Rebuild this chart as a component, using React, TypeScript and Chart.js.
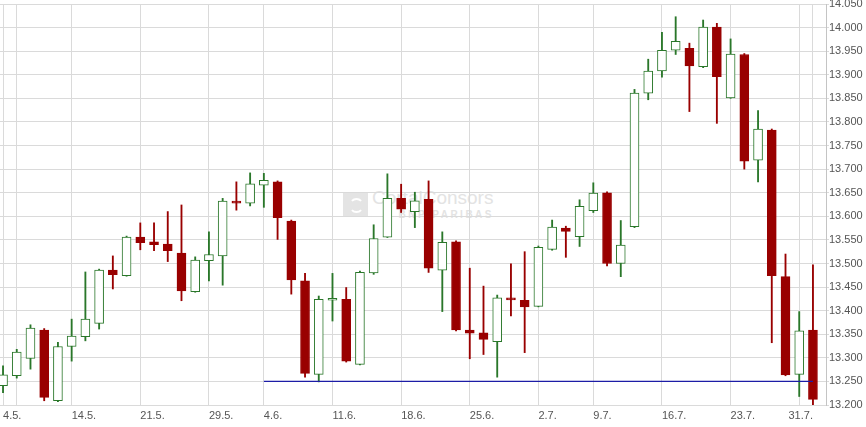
import React, { useEffect, useRef } from 'react';
import { Chart, registerables } from 'chart.js';

Chart.register(...registerables);

// One candle per trading day (7.5. ... 31.7.)
const OPEN = [
  13241, 13262, 13299, 13359, 13209, 13324, 13345, 13373, 13486, 13474,
  13556, 13546, 13541, 13522, 13440, 13506, 13516, 13632, 13628, 13666,
  13673, 13590, 13463, 13265, 13422, 13424, 13286, 13480, 13556, 13638,
  13610, 13636, 13486, 13546, 13359, 13353, 13334, 13427, 13422, 13409,
  13530, 13575, 13557, 13612, 13650, 13500, 13578, 13861, 13908, 13952,
  13956, 13917, 14001, 13851, 13943, 13719, 13783, 13472, 13265, 13359,
];
const HIGH = [
  13283, 13318, 13370, 13362, 13333, 13382, 13482, 13488, 13516, 13558,
  13586, 13586, 13610, 13624, 13514, 13567, 13638, 13673, 13692, 13691,
  13675, 13592, 13479, 13431, 13479, 13449, 13484, 13582, 13690, 13668,
  13651, 13675, 13567, 13548, 13490, 13452, 13433, 13499, 13525, 13537,
  13592, 13579, 13635, 13671, 13652, 13591, 13869, 13933, 13990, 14023,
  13967, 14016, 14009, 13976, 13945, 13824, 13785, 13520, 13398, 13497,
];
const LOW = [
  13226, 13257, 13276, 13209, 13207, 13293, 13336, 13361, 13446, 13473,
  13529, 13527, 13504, 13421, 13439, 13463, 13454, 13613, 13622, 13619,
  13551, 13435, 13259, 13249, 13378, 13291, 13285, 13477, 13555, 13608,
  13576, 13481, 13398, 13357, 13298, 13307, 13259, 13389, 13311, 13408,
  13528, 13513, 13536, 13608, 13495, 13472, 13576, 13847, 13895, 13943,
  13822, 13915, 13797, 13850, 13700, 13673, 13332, 13262, 13218, 13200,
];
const CLOSE = [
  13264, 13312, 13363, 13216, 13324, 13346, 13382, 13486, 13476, 13556,
  13544, 13540, 13527, 13442, 13507, 13519, 13632, 13628, 13669, 13676,
  13597, 13465, 13267, 13424, 13424, 13293, 13481, 13553, 13638, 13615,
  13633, 13490, 13545, 13359, 13352, 13339, 13427, 13423, 13408, 13534,
  13577, 13568, 13621, 13649, 13500, 13539, 13861, 13908, 13952, 13971,
  13919, 14001, 13896, 13944, 13717, 13785, 13474, 13264, 13357, 13212,
];

const X_LABELS = ['4.5.', '14.5.', '21.5.', '29.5.', '4.6.', '11.6.', '18.6.', '25.6.', '2.7.', '9.7.', '16.7.', '23.7.', '31.7.'];
const X_LABEL_AT = [0, 5, 10, 15, 19, 24, 29, 34, 39, 43, 48, 53, 59];
const X_GRID_AT = [0, 1, 5, 10, 15, 19, 24, 29, 34, 39, 43, 48, 53, 58, 59];
const X_MIN = -0.22;
const X_MAX = 59.95;

const Y_MIN = 13200;
const Y_MAX = 14050;
const Y_STEP = 50;

const SUPPORT_LEVEL = 13250;
const SUPPORT_FROM = 19;
const SUPPORT_TO = 59;

const UP = '#2a772a';
const DOWN = '#990000';
const GRID = '#dadada';
const TEXT = '#555555';
const FONT = '"Liberation Sans", Arial, Helvetica, sans-serif';

const fmt = (v: number) => {
  const th = Math.floor(v / 1000);
  const rest = String(Math.round(v % 1000)).padStart(3, '0');
  return `${th}.${rest}`;
};

const xLabelPlugin = {
  id: 'xLabels',
  afterDraw(chart: any) {
    const { ctx, chartArea } = chart;
    const xs = chart.scales.x;
    ctx.save();
    ctx.font = `11px ${FONT}`;
    ctx.fillStyle = TEXT;
    ctx.textBaseline = 'alphabetic';
    X_LABELS.forEach((t, k) => {
      const px = xs.getPixelForValue(X_LABEL_AT[k]);
      const last = k === X_LABELS.length - 1;
      ctx.textAlign = last ? 'right' : 'left';
      ctx.fillText(t, px, chartArea.bottom + 14);
    });
    ctx.restore();
  },
};

export default function App() {
  const ref = useRef<HTMLCanvasElement>(null);

  useEffect(() => {
    Chart.defaults.font.family = FONT;
    const up = OPEN.map((o, i) => CLOSE[i] >= o);
    const bodies = OPEN.map((o, i) => ({ x: i, y: [o, CLOSE[i]] }));
    const wicks = OPEN.map((_, i) => ({ x: i, y: [LOW[i], HIGH[i]] }));

    const chart = new Chart(ref.current as HTMLCanvasElement, {
      type: 'bar',
      data: {
        datasets: [
          {
            type: 'line',
            data: [
              { x: SUPPORT_FROM, y: SUPPORT_LEVEL },
              { x: SUPPORT_TO, y: SUPPORT_LEVEL },
            ],
            borderColor: '#1c1ca6',
            borderWidth: 1.2,
            pointRadius: 0,
            order: 0,
          } as any,
          {
            data: bodies,
            backgroundColor: up.map((u) => (u ? '#ffffff' : DOWN)),
            borderColor: up.map((u) => (u ? UP : DOWN)),
            borderWidth: 1,
            borderSkipped: false,
            barThickness: 9,
            minBarLength: 2,
            grouped: false,
            order: 1,
          } as any,
          {
            data: wicks,
            backgroundColor: up.map((u) => (u ? UP : DOWN)),
            borderWidth: 0,
            barThickness: 1.2,
            grouped: false,
            order: 2,
          } as any,
        ],
      },
      options: {
        animation: false,
        responsive: false,
        layout: { padding: { top: 4, left: 0, right: 0, bottom: 0 } },
        plugins: { legend: { display: false }, tooltip: { enabled: false } },
        scales: {
          x: {
            type: 'linear',
            min: X_MIN,
            max: X_MAX,
            offset: false,
            grid: { color: GRID, drawTicks: false, offset: false },
            border: { display: false },
            ticks: { display: false },
            afterBuildTicks: (s: any) => {
              s.ticks = X_GRID_AT.map((v) => ({ value: v }));
            },
            afterFit: (s: any) => {
              s.height = 22;
              s.paddingLeft = 0;
              s.paddingRight = 0;
            },
          },
          y: {
            position: 'right',
            min: Y_MIN,
            max: Y_MAX,
            grid: { color: GRID, tickLength: 3 },
            border: { display: true, color: '#c4c4c4' },
            ticks: {
              stepSize: Y_STEP,
              autoSkip: false,
              maxTicksLimit: 100,
              padding: 0,
              color: TEXT,
              font: { size: 11, family: FONT },
              callback: (v: any) => fmt(Number(v)),
            },
            afterFit: (s: any) => {
              s.width = 40;
              s.paddingTop = 0;
              s.paddingBottom = 0;
            },
          },
        },
      } as any,
      plugins: [xLabelPlugin],
    });
    return () => chart.destroy();
  }, []);

  return (
    <div style={{ position: 'absolute', left: 0, top: 0, width: 866, height: 427, background: '#fff' }}>
      <div style={{ position: 'absolute', left: 343, top: 192, width: 25, height: 25, background: '#e4e4e4', zIndex: 0 }}>
        <div style={{ position: 'absolute', left: 6, top: 6, width: 11, height: 11, borderRadius: '50%', border: '2px solid #fff', borderColor: '#fff transparent #fff transparent' }} />
      </div>
      <div style={{ position: 'absolute', left: 372, top: 187, fontFamily: FONT, fontSize: 19, color: '#e3e3e3', whiteSpace: 'nowrap', zIndex: 0 }}>
        CortalConsors
      </div>
      <div style={{ position: 'absolute', left: 380, width: 114, textAlign: 'right', top: 209, fontFamily: FONT, fontSize: 10, fontWeight: 'bold', letterSpacing: 2.5, color: '#e3e3e3', whiteSpace: 'nowrap', zIndex: 0 }}>
        BNP PARIBAS
      </div>
      <canvas ref={ref} width={866} height={427} style={{ position: 'absolute', left: 0, top: 0, display: 'block', zIndex: 1 }} />
    </div>
  );
}
